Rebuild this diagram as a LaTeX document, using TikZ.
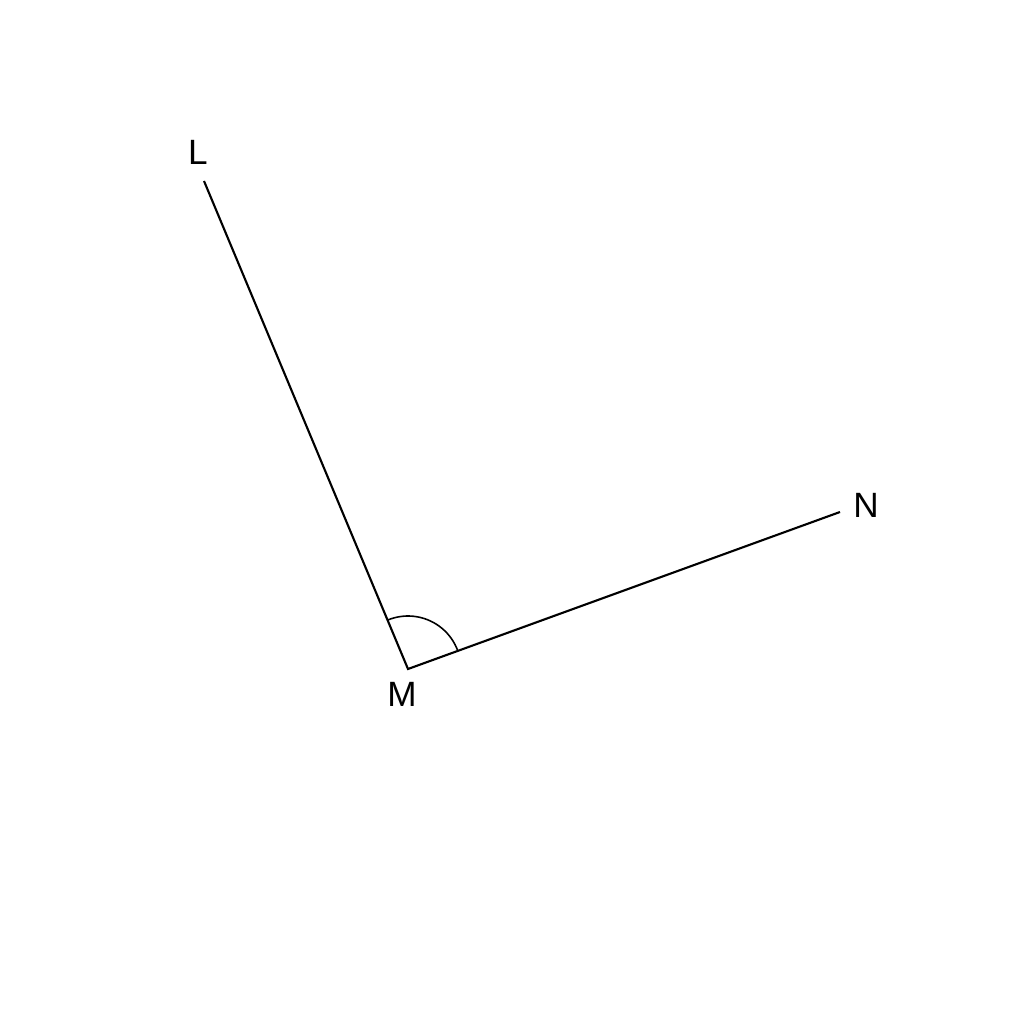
\documentclass[tikz,border=0pt]{standalone}
\usepackage{fontspec}
\setmainfont{Liberation Sans}
\usetikzlibrary{angles}
\begin{document}
\begin{tikzpicture}[
    side/.style={line width=0.6pt, black},
    vlabel/.style={font=\fontsize{10}{12}\selectfont, inner sep=0pt}
  ]
  \useasboundingbox (0,0) rectangle (10.24,10.24);

  % Points
  \coordinate (M) at (4.08, 3.55);
  \coordinate (L) at (2.04, 8.43);
  \coordinate (N) at (8.40, 5.12);

  % Labels
  \node[vlabel] (lblL) at (1.98, 8.72) {L};
  \node[vlabel] (lblM) at (4.02, 3.30) {M};
  \node[vlabel] (lblN) at (8.66, 5.19) {N};

  % Sides
  \draw[side] (L) -- (M) -- (N);

  % Angle mark
  \pic[draw, line width=0.45pt, angle radius=0.53cm] {angle = N--M--L};
\end{tikzpicture}
\end{document}
